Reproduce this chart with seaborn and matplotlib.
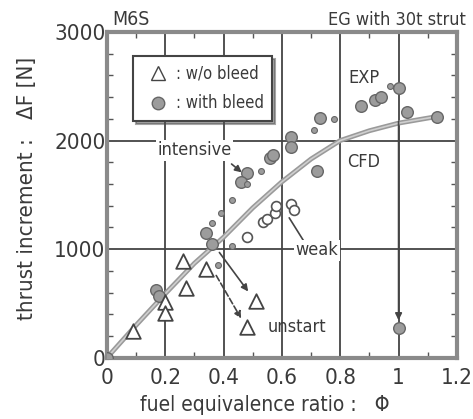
import matplotlib
matplotlib.use("Agg")
import matplotlib.pyplot as plt
import seaborn as sns
from matplotlib.lines import Line2D
from matplotlib.ticker import MultipleLocator

# CFD curve
cfd_phi = [0.0, 0.1, 0.2, 0.3, 0.4, 0.5, 0.6, 0.7, 0.8, 0.9, 1.0, 1.13]
cfd_df = [0, 300, 590, 870, 1110, 1380, 1620, 1830, 2000, 2090, 2160, 2220]

# w/o bleed (open triangles)
tri_phi = [0.09, 0.2, 0.2, 0.27, 0.26, 0.34, 0.51, 0.48]
tri_df = [250, 510, 415, 640, 890, 820, 525, 280]

# with bleed, large (filled gray circles)
big_phi = [0.0, 0.17, 0.18, 0.34, 0.36, 0.48, 0.46, 0.56, 0.57, 0.63, 0.63,
           0.73, 0.72, 0.87, 0.92, 0.94, 1.0, 1.03, 1.13, 1.0]
big_df = [0, 620, 570, 1150, 1050, 1700, 1620, 1840, 1870, 2030, 1940,
          2210, 1720, 2320, 2370, 2400, 2480, 2260, 2215, 270]

# with bleed, small dots
small_phi = [0.36, 0.39, 0.43, 0.48, 0.53, 0.71, 0.78, 0.97, 0.43, 0.38]
small_df = [1240, 1330, 1450, 1600, 1720, 2100, 2200, 2500, 1030, 850]

# weak (open circles)
weak_phi = [0.48, 0.535, 0.55, 0.576, 0.58, 0.63, 0.64]
weak_df = [1110, 1250, 1280, 1330, 1400, 1420, 1360]

ink = "#3a3a3a"
gray = "#8a8a8a"

sns.set_style("ticks")
plt.rcParams["font.family"] = ["DejaVu Sans"]
plt.rcParams["font.stretch"] = "condensed"

fig = plt.figure(figsize=(4.73, 4.19), dpi=100)
ax = fig.add_axes([0.226, 0.146, 0.74, 0.778])

ax.grid(True, which="major", color="#444444", lw=1.3)
sns.lineplot(x=cfd_phi, y=cfd_df, ax=ax, color="#9a9a9a", lw=3.5, zorder=3)
sns.lineplot(x=cfd_phi, y=cfd_df, ax=ax, color="#cfcfcf", lw=1.2, zorder=3)

sns.scatterplot(x=big_phi, y=big_df, ax=ax, s=70, color="#9c9c9c",
                edgecolor="#666666", linewidth=1, zorder=4)
sns.scatterplot(x=small_phi, y=small_df, ax=ax, s=18, color="#9c9c9c",
                edgecolor="#666666", linewidth=0.8, zorder=4)
sns.scatterplot(x=weak_phi, y=weak_df, ax=ax, s=50, facecolor="white",
                edgecolor="#555555", linewidth=1.2, zorder=4)
sns.scatterplot(x=tri_phi, y=tri_df, ax=ax, s=110, marker="^", facecolor="white",
                edgecolor="#444444", linewidth=1.3, zorder=4)

ax.set_xlim(0, 1.2)
ax.set_ylim(0, 3000)
ax.yaxis.set_major_locator(MultipleLocator(1000))
ax.xaxis.set_minor_locator(MultipleLocator(0.1))
ax.yaxis.set_minor_locator(MultipleLocator(200))
ax.set_xticks([0, 0.2, 0.4, 0.6, 0.8, 1.0, 1.2])
ax.set_xticklabels(["0", "0.2", "0.4", "0.6", "0.8", "1", "1.2"])
ax.tick_params(which="both", direction="in", top=True, right=True,
               color="#555555", labelsize=16, labelcolor=ink)
ax.tick_params(axis="x", pad=7)
ax.tick_params(axis="y", pad=1)
ax.tick_params(which="major", length=7, width=1.2)
ax.tick_params(which="minor", length=4, width=1)
for sp in ax.spines.values():
    sp.set_color(gray)
    sp.set_linewidth(3)

ax.set_xlabel("fuel equivalence ratio :   \u03a6", fontsize=15, color=ink)
ax.xaxis.set_label_coords(0.45, -0.115)
ax.set_ylabel("thrust increment :   \u0394F [N]", fontsize=16, color=ink)
ax.yaxis.set_label_coords(-0.2, 0.52)

fig.text(0.237, 0.94, "M6S", fontsize=14, color=ink)
fig.text(0.985, 0.94, "EG with 30t strut", fontsize=13, color=ink, ha="right")

txt = dict(fontsize=13, color=ink, zorder=6)
ax.text(0.3, 1910, "intensive", ha="center", va="center",
        bbox=dict(fc="white", ec="none", pad=1), **txt)
ax.text(0.88, 2575, "EXP", ha="center", va="center", **txt)
ax.text(0.88, 1800, "CFD", ha="center", va="center",
        bbox=dict(fc="white", ec="none", pad=1), **txt)
ax.text(0.72, 990, "weak", ha="center", va="center",
        bbox=dict(fc="white", ec="none", pad=1), **txt)
ax.text(0.55, 280, "unstart", ha="left", va="center", **txt)

arr = dict(arrowstyle="-|>", color="#444444", lw=1.2)
ax.annotate("", xy=(0.47, 1690), xytext=(0.42, 1800), arrowprops=arr)
ax.annotate("", xy=(0.62, 1310), xytext=(0.69, 1010),
            arrowprops=dict(arrowstyle="-", color="#444444", lw=1.2))
ax.annotate("", xy=(0.49, 590), xytext=(0.38, 990), arrowprops=arr)
ax.annotate("", xy=(0.465, 340), xytext=(0.37, 780),
            arrowprops=dict(arrowstyle="-|>", color="#444444", lw=1.2, ls="--"))
ax.annotate("", xy=(1.0, 320), xytext=(1.0, 2200), arrowprops=arr)

handles = [
    Line2D([], [], marker="^", ls="none", markersize=10, markerfacecolor="white",
           markeredgecolor="#444444", label=": w/o bleed"),
    Line2D([], [], marker="o", ls="none", markersize=9, markerfacecolor="#9c9c9c",
           markeredgecolor="#666666", label=": with bleed"),
]
leg = ax.legend(handles=handles, loc="upper left", bbox_to_anchor=(0.05, 0.95),
                fontsize=12, frameon=True, fancybox=False, shadow=True,
                handletextpad=0.1, borderpad=0.5, labelspacing=0.7)
leg.get_frame().set_edgecolor("#444444")
leg.get_frame().set_linewidth(1.5)
for t in leg.get_texts():
    t.set_color(ink)

fig.savefig("out.png", dpi=100)
